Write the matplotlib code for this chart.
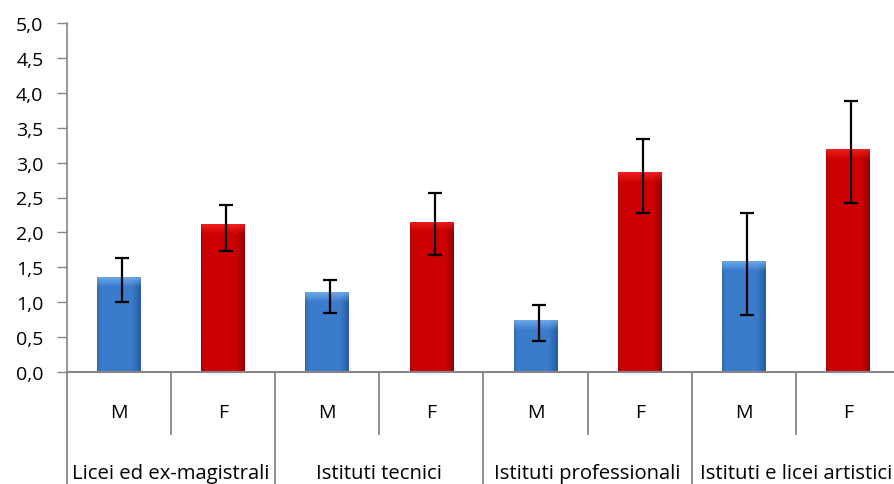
import matplotlib
matplotlib.use('Agg')
import matplotlib.pyplot as plt
import numpy as np

groups = ['Licei ed ex-magistrali', 'Istituti tecnici', 'Istituti professionali', 'Istituti e licei artistici']
sexes = ['M', 'F']
values = [1.36, 2.12, 1.14, 2.15, 0.74, 2.86, 1.59, 3.19]
err_low = [1.01, 1.74, 0.85, 1.68, 0.45, 2.28, 0.82, 2.42]
err_high = [1.64, 2.39, 1.32, 2.56, 0.96, 3.34, 2.28, 3.88]
yticks = [0.0, 0.5, 1.0, 1.5, 2.0, 2.5, 3.0, 3.5, 4.0, 4.5, 5.0]

BLUE = '#3a7ccb'
RED = '#cc0000'
GRAY = '#868686'
FONT = 'Open Sans'
FS = 14


def shade_image(base, dark):
    # Excel-like bevel: darker right edge, slight dark left edge
    base = np.array(matplotlib.colors.to_rgb(base))
    dark = np.array(matplotlib.colors.to_rgb(dark))
    nx, ny = 60, 400
    xs = np.linspace(0, 1, nx)
    img = np.zeros((ny, nx, 3))
    for j, x in enumerate(xs):
        if x > 0.8:
            t = (x - 0.8) / 0.2
            col = base * (1 - t) + dark * t
        elif x < 0.08:
            t = (0.08 - x) / 0.08
            col = base * (1 - 0.5 * t) + dark * 0.5 * t
        else:
            col = base
        img[:, j] = col
    return img


fig = plt.figure(figsize=(8.94, 4.85), dpi=100)
ax = fig.add_axes([67 / 894, 112 / 485, 833 / 894, 349 / 485])

x = np.arange(len(values)) + 0.5
colors = [BLUE if i % 2 == 0 else RED for i in range(len(values))]
bars = ax.bar(x, values, width=0.42, color=colors, zorder=2)

for b, c in zip(bars, colors):
    if c == BLUE:
        img = shade_image(BLUE, '#2a5b9e')
        light = np.array(matplotlib.colors.to_rgb('#7fb6f5'))
    else:
        img = shade_image(RED, '#960000')
        light = np.array(matplotlib.colors.to_rgb('#ff2a2a'))
    x0, y0 = b.get_x(), b.get_y()
    w, h = b.get_width(), b.get_height()
    # top bevel band about 10 px tall
    band = int(400 * (10 / 69.7) / h)
    for k in range(band):
        t = 1 - k / band
        img[k] = img[k] * (1 - 0.75 * t) + light * 0.75 * t
    im = ax.imshow(img, extent=(x0, x0 + w, y0, y0 + h), aspect='auto',
                   origin='upper', zorder=2.5, interpolation='bilinear')
    im.set_clip_path(b)

yerr = [np.array(values) - np.array(err_low), np.array(err_high) - np.array(values)]
ax.errorbar(x + 0.03, values, yerr=yerr, fmt='none', ecolor='black',
            elinewidth=1.6, capsize=5, capthick=1.6, zorder=4)

ax.set_xlim(0, 8)
ax.set_ylim(0, 5.0)
ax.set_yticks(yticks)
ax.set_yticklabels([f'{v:.1f}'.replace('.', ',') for v in yticks],
                   fontsize=FS, fontfamily=FONT)
ax.tick_params(axis='y', length=7, width=1, color=GRAY, pad=10)
ax.set_xticks([])

for s in ['top', 'right', 'bottom']:
    ax.spines[s].set_visible(False)
ax.spines['left'].set_color(GRAY)
ax.spines['left'].set_linewidth(1.2)
ax.axhline(0, color=GRAY, lw=1.5, zorder=3, clip_on=False)

trans = ax.get_xaxis_transform()
# separators under the axis
for i in range(9):
    bottom = -112 / 349 if i % 2 == 0 else -62 / 349
    ax.plot([i, i], [0, bottom], transform=trans, color=GRAY, lw=1.3, clip_on=False)

for i, xc in enumerate(x):
    ax.text(xc, -40 / 349, sexes[i % 2], transform=trans, ha='center', va='center',
            fontsize=FS, fontfamily=FONT)

for g, name in enumerate(groups):
    ax.text(2 * g + 1, -101 / 349, name, transform=trans, ha='center', va='center',
            fontsize=14.6, fontfamily=FONT)

fig.savefig('out.png', dpi=100, facecolor='white')
